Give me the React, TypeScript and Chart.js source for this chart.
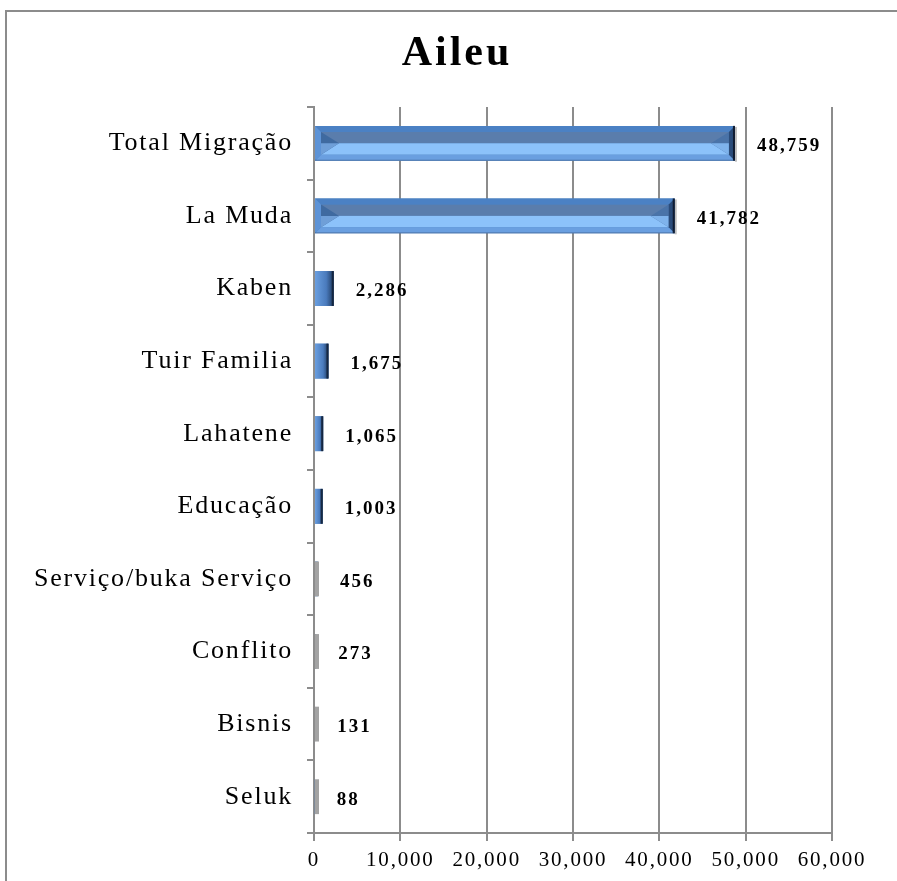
import React, { useEffect, useRef } from "react";
import { Chart, registerables } from "chart.js";

Chart.register(...registerables);

const categories = [
  "Total Migração",
  "La Muda",
  "Kaben",
  "Tuir Familia",
  "Lahatene",
  "Educação",
  "Serviço/buka Serviço",
  "Conflito",
  "Bisnis",
  "Seluk",
];
const values = [48759, 41782, 2286, 1675, 1065, 1003, 456, 273, 131, 88];
const xTicks = [0, 10000, 20000, 30000, 40000, 50000, 60000];
const chartTitle = "Aileu";

const fmt = (v: number) => v.toLocaleString("en-US");
const SERIF = "'Liberation Serif', 'DejaVu Serif', serif";
const GRID = "#8c8c8c";

const spacingPlugin = {
  id: "letterSpacing",
  beforeDraw(chart: any) {
    (chart.ctx as any).letterSpacing = "1.8px";
  },
};

const bevelPlugin = {
  id: "bevelBars",
  afterDatasetsDraw(chart: any) {
    const ctx = chart.ctx as CanvasRenderingContext2D;
    const meta = chart.getDatasetMeta(0);
    ctx.save();
    meta.data.forEach((el: any) => {
      const L = el.base;
      const R = el.x;
      const h = el.height;
      const T = el.y - h / 2;
      const B = el.y + h / 2;
      const w = R - L;
      if (w < 6) {
        ctx.fillStyle = "#a3a3a3";
        ctx.fillRect(L, T, Math.max(w, 4), h);
        return;
      }
      if (w < 28) {
        const g = ctx.createLinearGradient(L, 0, R, 0);
        g.addColorStop(0, "#6a9fe0");
        g.addColorStop(0.6, "#4a7bbd");
        g.addColorStop(1, "#1f3a60");
        ctx.fillStyle = g;
        ctx.fillRect(L, T, w, h);
        ctx.fillStyle = "rgba(20,35,60,0.9)";
        ctx.fillRect(R - 2, T, 2, h);
        return;
      }
      const b = Math.min(6, h / 5);
      const poly = (pts: number[][], c: string) => {
        ctx.beginPath();
        ctx.moveTo(pts[0][0], pts[0][1]);
        for (let i = 1; i < pts.length; i++) ctx.lineTo(pts[i][0], pts[i][1]);
        ctx.closePath();
        ctx.fillStyle = c;
        ctx.fill();
      };
      const mid = (T + B) / 2;
      ctx.fillStyle = "#5a7dac";
      ctx.fillRect(L + b, T + b, w - 2 * b, mid - T - b);
      ctx.fillStyle = "#8cc2fa";
      ctx.fillRect(L + b, mid, w - 2 * b, B - b - mid);
      poly([[L + b, T + b], [L + b + 18, mid], [L + b, B - b]], "#3f6aa0");
      poly([[L + b, mid], [L + b + 18, mid], [L + b, B - b]], "#6f9fd8");
      poly([[R - b, T + b], [R - b - 18, mid], [R - b, B - b]], "#4a73a8");
      poly([[R - b, mid], [R - b - 18, mid], [R - b, B - b]], "#7fb3ec");
      poly([[L, T], [R, T], [R - b, T + b], [L + b, T + b]], "#4b81c4");
      poly([[L, B], [R, B], [R - b, B - b], [L + b, B - b]], "#6a9fe0");
      poly([[L, T], [L + b, T + b], [L + b, B - b], [L, B]], "#5d93d6");
      poly([[R, T], [R - b, T + b], [R - b, B - b], [R, B]], "#2b4c7a");
      ctx.fillStyle = "rgba(15,25,45,0.95)";
      ctx.fillRect(R - 2, T, 2, h);
      ctx.fillStyle = "rgba(0,0,0,0.25)";
      ctx.fillRect(R, T + 1, 2, h);
      ctx.fillStyle = "rgba(30,50,80,0.35)";
      ctx.fillRect(L, B - 1, w, 1);
    });
    ctx.restore();
  },
};

const labelPlugin = {
  id: "valueLabels",
  afterDatasetsDraw(chart: any) {
    const ctx = chart.ctx as CanvasRenderingContext2D;
    const meta = chart.getDatasetMeta(0);
    ctx.save();
    (ctx as any).letterSpacing = "2px";
    ctx.font = `bold 19px ${SERIF}`;
    ctx.fillStyle = "#000";
    ctx.textAlign = "left";
    ctx.textBaseline = "middle";
    meta.data.forEach((el: any, i: number) => {
      ctx.fillText(fmt(values[i]), el.x + 22, el.y + 3);
    });
    ctx.restore();
  },
};

const titlePlugin = {
  id: "customTitle",
  afterDraw(chart: any) {
    const ctx = chart.ctx as CanvasRenderingContext2D;
    ctx.save();
    (ctx as any).letterSpacing = "3px";
    ctx.font = `bold 42px ${SERIF}`;
    ctx.fillStyle = "#000";
    ctx.textAlign = "center";
    ctx.textBaseline = "middle";
    ctx.fillText(chartTitle, 457, 54);
    ctx.restore();
  },
};

export default function App() {
  const ref = useRef<HTMLCanvasElement | null>(null);
  useEffect(() => {
    if (!ref.current) return;
    const chart = new Chart(ref.current, {
      type: "bar",
      data: {
        labels: categories,
        datasets: [
          {
            data: values,
            backgroundColor: "#4f81bd",
            borderWidth: 0,
            barPercentage: 0.48,
            categoryPercentage: 1,
          },
        ],
      },
      options: {
        indexAxis: "y",
        animation: false,
        responsive: false,
        maintainAspectRatio: false,
        layout: { padding: { top: 107, right: 65, left: 0, bottom: 0 } },
        plugins: {
          legend: { display: false },
          title: { display: false },
          tooltip: { enabled: false },
        },
        scales: {
          x: {
            min: 0,
            max: 60000,
            afterBuildTicks: (scale: any) => {
              scale.ticks = xTicks.map((v) => ({ value: v }));
            },
            afterFit: (scale: any) => {
              scale.height = 48;
            },
            ticks: {
              callback: (v: any) => fmt(Number(v)),
              font: { family: SERIF, size: 21 },
              color: "#000",
              padding: 7,
              maxRotation: 0,
              autoSkip: false,
            },
            grid: { color: GRID, lineWidth: 2, tickLength: 8, drawTicks: true },
            border: { display: true, color: GRID, width: 2 },
          },
          y: {
            afterFit: (scale: any) => {
              scale.width = 314;
            },
            ticks: {
              font: { family: SERIF, size: 26 },
              color: "#000",
              padding: 14,
              autoSkip: false,
            },
            grid: {
              offset: true,
              drawOnChartArea: false,
              drawTicks: true,
              tickLength: 7,
              color: GRID,
              lineWidth: 2,
            },
            border: { display: true, color: GRID, width: 2 },
          },
        },
      },
      plugins: [spacingPlugin, bevelPlugin, labelPlugin, titlePlugin],
    });
    return () => chart.destroy();
  }, []);

  return (
    <div style={{ position: "absolute", left: 0, top: 0, width: 897, height: 881, background: "#fff" }}>
      <div
        style={{
          position: "absolute",
          left: 5,
          top: 10,
          width: 892,
          height: 871,
          borderTop: `2px solid ${GRID}`,
          borderLeft: `2px solid ${GRID}`,
          boxSizing: "border-box",
        }}
      />
      <canvas ref={ref} width={897} height={881} style={{ position: "absolute", left: 0, top: 0 }} />
    </div>
  );
}
